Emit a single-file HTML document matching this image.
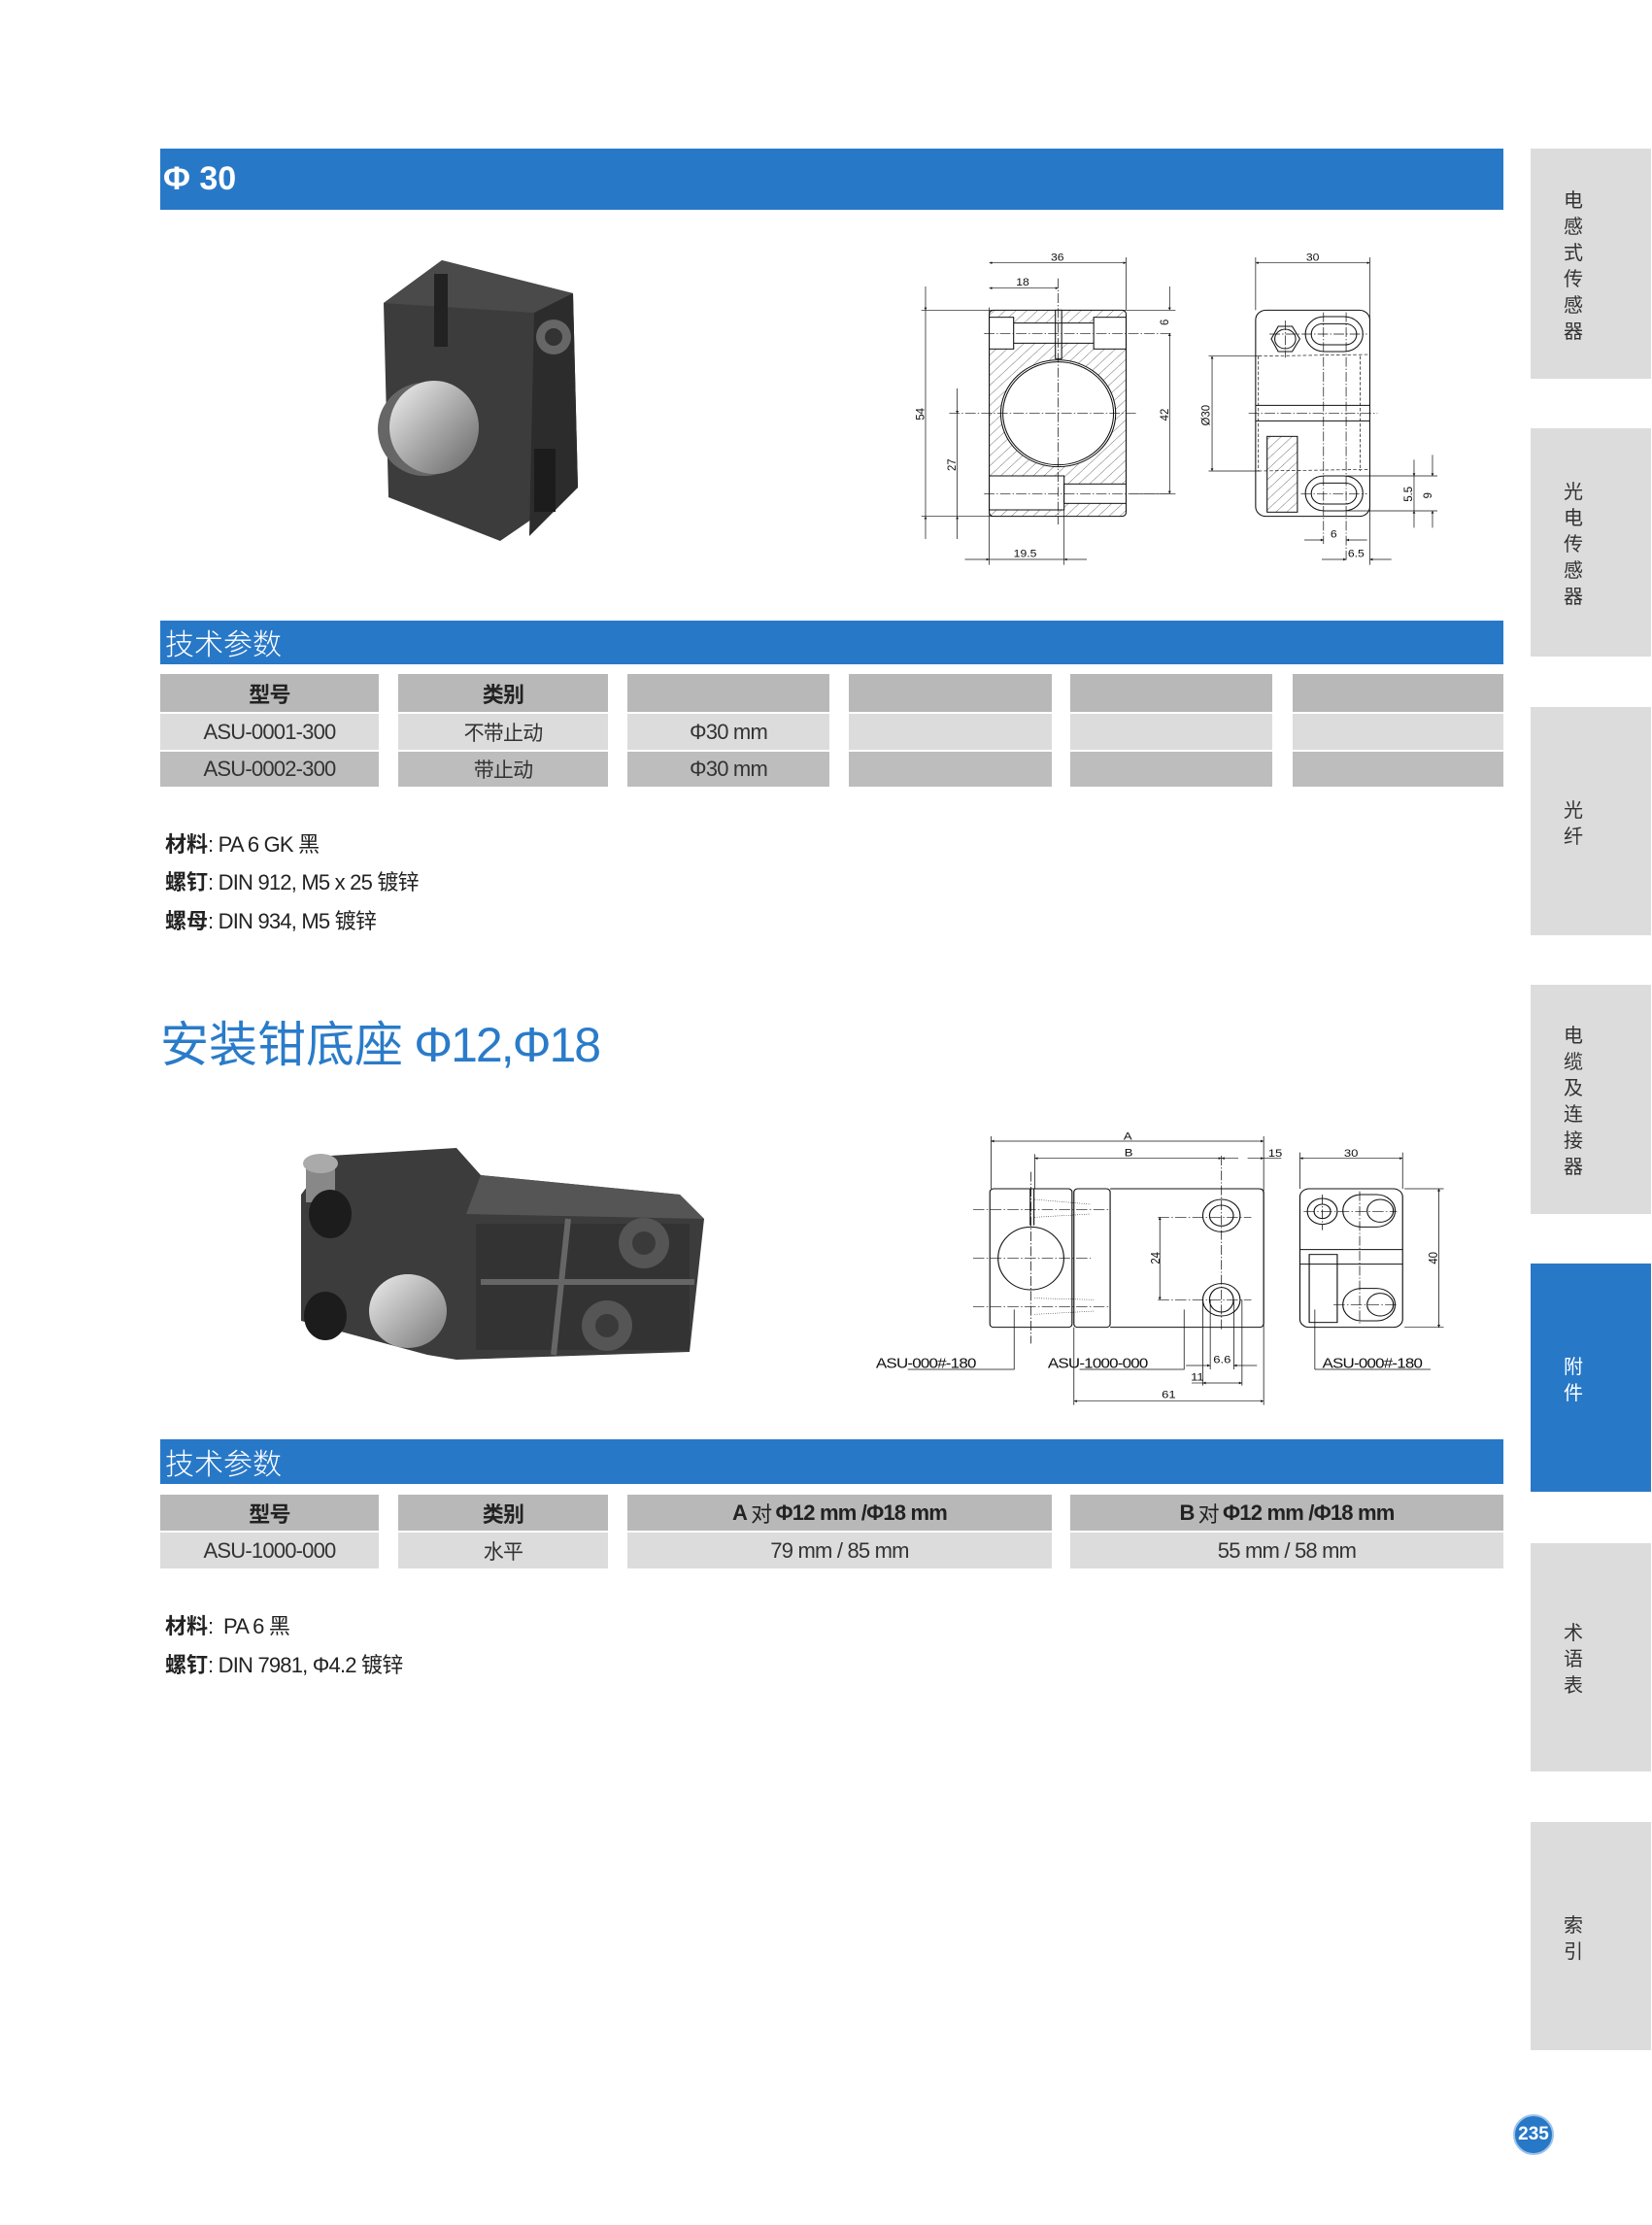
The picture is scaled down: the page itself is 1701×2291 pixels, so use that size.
<!DOCTYPE html>
<html><head><meta charset="utf-8">
<style>
body{margin:0;width:1701px;height:2291px;background:#fff;position:relative;overflow:hidden;font-family:"Liberation Sans","Noto Sans CJK SC",sans-serif;color:#222}
.a{position:absolute}
.bar{position:absolute;left:165px;width:1383px;background:#2878c8;color:#fff}
.cell{position:absolute;display:flex;align-items:center;justify-content:center;font-size:22px;color:#333;letter-spacing:-0.8px}
.h{background:#b8b8b8;font-weight:bold;color:#222}
.g1{background:#dcdcdc}.g2{background:#bdbdbd}
.tab{position:absolute;left:1576px;width:124px;background:#dcdcdc;display:flex;align-items:center;justify-content:center;font-family:"Noto Sans CJK SC",sans-serif;font-size:20px;line-height:27px;color:#333;text-align:center;padding-right:36px;box-sizing:border-box}
.mat{position:absolute;left:170px;font-size:22px;letter-spacing:-0.8px}
.mat b{font-family:"Noto Sans CJK SC",sans-serif;letter-spacing:0}
svg text{font-family:"Liberation Sans",sans-serif}
</style></head><body>

<div class="bar" style="top:153px;height:63px;font-size:34px;font-weight:bold;line-height:63px;padding-left:3px;box-sizing:border-box">Φ 30</div>

<!-- product 1 -->
<svg class="a" style="left:375px;top:262px" width="235" height="300" viewBox="0 0 235 300">
<defs><linearGradient id="k1" x1="0" y1="0" x2="1" y2="1"><stop offset="0" stop-color="#f2f2f2"/><stop offset=".5" stop-color="#aaa"/><stop offset="1" stop-color="#666"/></linearGradient></defs>
<polygon points="20,50 80,6 215,40 220,240 140,295 25,250" fill="#3c3c3c"/>
<polygon points="80,6 215,40 175,60 20,50" fill="#4a4a4a"/>
<polygon points="175,60 215,40 220,240 170,290" fill="#2c2c2c"/>
<rect x="72" y="20" width="14" height="75" fill="#222"/>
<circle cx="195" cy="85" r="18" fill="#666"/><circle cx="195" cy="85" r="9" fill="#333"/>
<rect x="175" y="200" width="22" height="65" fill="#1c1c1c"/>
<ellipse cx="62" cy="180" rx="48" ry="48" fill="#666"/>
<ellipse cx="72" cy="178" rx="46" ry="48" fill="url(#k1)"/>
</svg>

<!-- drawing 1 -->
<svg class="a" style="left:920px;top:250px" width="560" height="340" viewBox="0 0 1562 1020" preserveAspectRatio="none" fill="none" stroke="#111" stroke-width="3">
<defs><pattern id="hp" width="22" height="22" patternUnits="userSpaceOnUse" patternTransform="rotate(45)"><line x1="0" y1="0" x2="0" y2="22" stroke="#333" stroke-width="2"/></pattern>
<marker id="ar" viewBox="0 0 10 10" refX="10" refY="5" markerWidth="14" markerHeight="8" orient="auto-start-reverse" markerUnits="userSpaceOnUse"><path d="M0,0L10,5L0,10z" fill="#111" stroke="none"/></marker></defs>
<rect x="275" y="208" width="393" height="637" rx="12" fill="url(#hp)"/>
<g fill="#fff" stroke="#111"><rect x="275" y="248" width="393" height="62" stroke="none"/><rect x="275" y="230" width="70" height="98"/><rect x="575" y="230" width="93" height="98"/>
<rect x="275" y="720" width="215" height="105"/><rect x="490" y="745" width="178" height="60"/><rect x="465" y="208" width="18" height="150"/>
<circle cx="473" cy="527" r="165"/></g>
<circle cx="473" cy="527" r="159"/>
<line x1="345" y1="248" x2="575" y2="248"/><line x1="345" y1="310" x2="575" y2="310"/>
<g stroke-width="2" stroke-dasharray="30,6,4,6"><line x1="473" y1="110" x2="473" y2="870"/><line x1="160" y1="527" x2="700" y2="527"/><line x1="260" y1="280" x2="800" y2="280"/><line x1="260" y1="775" x2="800" y2="775"/>
<line x1="1125" y1="240" x2="1125" y2="355"/><line x1="1235" y1="215" x2="1235" y2="930"/><line x1="1300" y1="215" x2="1300" y2="980"/><line x1="1020" y1="527" x2="1390" y2="527"/><line x1="1080" y1="282" x2="1360" y2="282"/><line x1="1170" y1="775" x2="1360" y2="775"/></g>
<g stroke-width="2"><line x1="275" y1="200" x2="275" y2="995"/><line x1="668" y1="45" x2="668" y2="208"/><line x1="80" y1="208" x2="810" y2="208"/><line x1="80" y1="845" x2="300" y2="845"/><line x1="490" y1="825" x2="490" y2="995"/><line x1="680" y1="775" x2="810" y2="775"/>
<line x1="275" y1="62" x2="668" y2="62" marker-start="url(#ar)" marker-end="url(#ar)"/>
<line x1="275" y1="140" x2="473" y2="140" marker-start="url(#ar)" marker-end="url(#ar)"/>
<line x1="92" y1="135" x2="92" y2="208" marker-end="url(#ar)"/><line x1="92" y1="208" x2="92" y2="845"/><line x1="92" y1="915" x2="92" y2="845" marker-end="url(#ar)"/>
<line x1="183" y1="450" x2="183" y2="527" marker-end="url(#ar)"/><line x1="183" y1="527" x2="183" y2="845"/><line x1="183" y1="915" x2="183" y2="845" marker-end="url(#ar)"/>
<line x1="793" y1="135" x2="793" y2="208" marker-end="url(#ar)"/><line x1="793" y1="280" x2="793" y2="775" marker-start="url(#ar)" marker-end="url(#ar)"/>
<line x1="205" y1="978" x2="275" y2="978" marker-end="url(#ar)"/><line x1="275" y1="978" x2="490" y2="978"/><line x1="555" y1="978" x2="490" y2="978" marker-end="url(#ar)"/>
<line x1="1040" y1="45" x2="1040" y2="208"/><line x1="1368" y1="45" x2="1368" y2="995"/>
<line x1="1040" y1="62" x2="1368" y2="62" marker-start="url(#ar)" marker-end="url(#ar)"/>
<line x1="905" y1="350" x2="1050" y2="350"/><line x1="905" y1="705" x2="1050" y2="705"/><line x1="915" y1="350" x2="915" y2="705" marker-start="url(#ar)" marker-end="url(#ar)"/>
<line x1="1300" y1="720" x2="1562" y2="720"/><line x1="1300" y1="828" x2="1562" y2="828"/>
<line x1="1495" y1="670" x2="1495" y2="720" marker-end="url(#ar)"/><line x1="1495" y1="880" x2="1495" y2="828" marker-end="url(#ar)"/><line x1="1495" y1="720" x2="1495" y2="828"/>
<line x1="1548" y1="655" x2="1548" y2="720" marker-end="url(#ar)"/><line x1="1548" y1="880" x2="1548" y2="828" marker-end="url(#ar)"/>
<line x1="1180" y1="918" x2="1235" y2="918" marker-end="url(#ar)"/><line x1="1360" y1="918" x2="1300" y2="918" marker-end="url(#ar)"/>
<line x1="1230" y1="978" x2="1300" y2="978" marker-end="url(#ar)"/><line x1="1430" y1="978" x2="1368" y2="978" marker-end="url(#ar)"/></g>
<rect x="1040" y="208" width="328" height="637" rx="30"/>
<polygon points="1085,297 1105,258 1145,258 1167,297 1145,336 1105,336"/><circle cx="1125" cy="297" r="30"/>
<rect x="1183" y="228" width="165" height="108" rx="54"/><rect x="1200" y="250" width="130" height="65" rx="32"/>
<rect x="1183" y="720" width="165" height="108" rx="54"/><rect x="1200" y="742" width="130" height="65" rx="32"/>
<rect x="1073" y="598" width="87" height="234" fill="url(#hp)"/>
<line x1="1040" y1="502" x2="1368" y2="502"/><line x1="1040" y1="550" x2="1368" y2="550"/>
<g stroke-width="2" stroke-dasharray="10,6"><line x1="1048" y1="350" x2="1368" y2="345"/><line x1="1048" y1="705" x2="1368" y2="700"/><line x1="1048" y1="350" x2="1048" y2="705"/><line x1="1340" y1="350" x2="1340" y2="705"/></g>
<g fill="#111" stroke="none" font-size="34"><text x="452" y="55">36</text><text x="352" y="132">18</text><text x="345" y="970">19.5</text><text x="1185" y="55">30</text><text x="1255" y="910">6</text><text x="1305" y="970">6.5</text>
<text transform="translate(88,548) rotate(-90)">54</text><text transform="translate(178,705) rotate(-90)">27</text><text transform="translate(790,550) rotate(-90)">42</text><text transform="translate(790,255) rotate(-90)">6</text><text transform="translate(908,565) rotate(-90)">Ø30</text><text transform="translate(1490,800) rotate(-90)">5.5</text><text transform="translate(1545,790) rotate(-90)">9</text></g>
</svg>

<div class="bar" style="top:639px;height:45px;font-size:30px;line-height:45px;padding-left:5px;box-sizing:border-box;font-family:'Noto Sans CJK SC',sans-serif;font-weight:300">技术参数</div>

<div class="cell h" style="left:165px;top:694px;width:225px;height:39px;font-family:'Noto Sans CJK SC',sans-serif">型号</div>
<div class="cell h" style="left:410px;top:694px;width:216px;height:39px;font-family:'Noto Sans CJK SC',sans-serif">类别</div>
<div class="cell h" style="left:646px;top:694px;width:208px;height:39px"></div>
<div class="cell h" style="left:874px;top:694px;width:209px;height:39px"></div>
<div class="cell h" style="left:1102px;top:694px;width:208px;height:39px"></div>
<div class="cell h" style="left:1331px;top:694px;width:217px;height:39px"></div>

<div class="cell g1" style="left:165px;top:735px;width:225px;height:37px">ASU-0001-300</div>
<div class="cell g1" style="left:410px;top:735px;width:216px;height:37px;font-family:'Noto Sans CJK SC',sans-serif;font-size:21px">不带止动</div>
<div class="cell g1" style="left:646px;top:735px;width:208px;height:37px">Φ30 mm</div>
<div class="cell g1" style="left:874px;top:735px;width:209px;height:37px"></div>
<div class="cell g1" style="left:1102px;top:735px;width:208px;height:37px"></div>
<div class="cell g1" style="left:1331px;top:735px;width:217px;height:37px"></div>

<div class="cell g2" style="left:165px;top:774px;width:225px;height:36px">ASU-0002-300</div>
<div class="cell g2" style="left:410px;top:774px;width:216px;height:36px;font-family:'Noto Sans CJK SC',sans-serif;font-size:21px">带止动</div>
<div class="cell g2" style="left:646px;top:774px;width:208px;height:36px">Φ30 mm</div>
<div class="cell g2" style="left:874px;top:774px;width:209px;height:36px"></div>
<div class="cell g2" style="left:1102px;top:774px;width:208px;height:36px"></div>
<div class="cell g2" style="left:1331px;top:774px;width:217px;height:36px"></div>

<div class="mat" style="top:852px"><b>材料</b>: PA 6 GK 黑</div>
<div class="mat" style="top:891px"><b>螺钉</b>: DIN 912, M5 x 25 镀锌</div>
<div class="mat" style="top:931px"><b>螺母</b>: DIN 934, M5 镀锌</div>

<div class="a" style="left:165px;top:1040px;font-size:50px;color:#2a7bc9;font-family:'Noto Sans CJK SC',sans-serif;line-height:64px">安装钳底座 <span style="font-family:'Liberation Sans',sans-serif;letter-spacing:-2px">Φ12,Φ18</span></div>

<!-- product 2 -->
<svg class="a" style="left:280px;top:1160px" width="460" height="250" viewBox="0 0 460 250">
<defs><linearGradient id="k2" x1="0" y1="0" x2="1" y2="1"><stop offset="0" stop-color="#eee"/><stop offset="1" stop-color="#777"/></linearGradient></defs>
<polygon points="30,70 60,30 190,22 215,50 420,70 445,95 430,232 190,240 160,235 30,200" fill="#3c3c3c"/>
<polygon points="215,50 420,70 445,95 200,90" fill="#555"/>
<rect x="210" y="100" width="220" height="130" fill="#333"/>
<line x1="305" y1="95" x2="290" y2="235" stroke="#666" stroke-width="6"/><line x1="215" y1="160" x2="435" y2="160" stroke="#666" stroke-width="6"/>
<circle cx="383" cy="120" r="26" fill="#555"/><circle cx="383" cy="120" r="12" fill="#3a3a3a"/>
<circle cx="345" cy="205" r="26" fill="#555"/><circle cx="345" cy="205" r="12" fill="#3a3a3a"/>
<rect x="35" y="38" width="30" height="40" fill="#888"/><ellipse cx="50" cy="38" rx="18" ry="10" fill="#aaa"/>
<ellipse cx="60" cy="90" rx="22" ry="25" fill="#1c1c1c"/><ellipse cx="55" cy="195" rx="22" ry="25" fill="#1c1c1c"/>
<ellipse cx="140" cy="190" rx="40" ry="38" fill="url(#k2)"/>
</svg>

<!-- drawing 2 -->
<svg class="a" style="left:900px;top:1150px" width="600" height="300" viewBox="0 0 1560 900" preserveAspectRatio="none" fill="none" stroke="#111" stroke-width="3">
<rect x="310" y="222" width="220" height="428" rx="10"/><rect x="535" y="222" width="97" height="428" rx="10"/><path d="M632,222 H1030 Q1043,222 1043,235 V637 Q1043,650 1030,650 H632"/>
<ellipse cx="420" cy="437" rx="88" ry="97"/><line x1="418" y1="222" x2="418" y2="335"/><line x1="428" y1="222" x2="428" y2="335"/>
<circle cx="930" cy="305" r="50"/><circle cx="930" cy="305" r="32"/><circle cx="930" cy="565" r="50"/><ellipse cx="930" cy="565" rx="32" ry="38"/>
<rect x="1140" y="222" width="275" height="428" rx="25"/><line x1="1140" y1="410" x2="1415" y2="410"/><line x1="1140" y1="455" x2="1415" y2="455"/>
<circle cx="1200" cy="292" r="40"/><circle cx="1200" cy="292" r="22"/><rect x="1255" y="240" width="140" height="100" rx="50"/><circle cx="1355" cy="290" r="35"/>
<rect x="1255" y="530" width="140" height="100" rx="50"/><circle cx="1355" cy="580" r="35"/><rect x="1165" y="425" width="75" height="210"/>
<g stroke-width="2" stroke-dasharray="2,4"><line x1="430" y1="255" x2="580" y2="270"/><line x1="430" y1="310" x2="580" y2="300"/><line x1="430" y1="560" x2="590" y2="565"/><line x1="430" y1="610" x2="590" y2="600"/></g>
<g stroke-width="2" stroke-dasharray="30,6,4,6"><line x1="265" y1="287" x2="630" y2="287"/><line x1="265" y1="437" x2="580" y2="437"/><line x1="265" y1="587" x2="630" y2="587"/><line x1="420" y1="170" x2="420" y2="700"/><line x1="930" y1="120" x2="930" y2="660"/><line x1="760" y1="310" x2="1010" y2="310"/><line x1="760" y1="565" x2="1010" y2="565"/><line x1="1200" y1="240" x2="1200" y2="350"/><line x1="1300" y1="230" x2="1300" y2="640"/><line x1="1150" y1="292" x2="1400" y2="292"/><line x1="1230" y1="580" x2="1400" y2="580"/></g>
<g stroke-width="2"><line x1="313" y1="60" x2="313" y2="222"/><line x1="430" y1="115" x2="430" y2="222"/><line x1="1043" y1="60" x2="1043" y2="890"/><line x1="535" y1="650" x2="535" y2="890"/>
<line x1="313" y1="75" x2="1043" y2="75" marker-start="url(#ar)" marker-end="url(#ar)"/>
<line x1="430" y1="128" x2="930" y2="128" marker-start="url(#ar)" marker-end="url(#ar)"/><line x1="975" y1="128" x2="930" y2="128" marker-end="url(#ar)"/><line x1="1000" y1="128" x2="1043" y2="128" marker-end="url(#ar)"/><line x1="1043" y1="128" x2="1090" y2="128"/>
<line x1="1140" y1="128" x2="1415" y2="128" marker-start="url(#ar)" marker-end="url(#ar)"/><line x1="1140" y1="110" x2="1140" y2="222"/><line x1="1415" y1="110" x2="1415" y2="222"/>
<line x1="1420" y1="222" x2="1525" y2="222"/><line x1="1420" y1="650" x2="1525" y2="650"/><line x1="1512" y1="222" x2="1512" y2="650" marker-start="url(#ar)" marker-end="url(#ar)"/>
<line x1="765" y1="310" x2="765" y2="565" marker-start="url(#ar)" marker-end="url(#ar)"/>
<line x1="535" y1="878" x2="1043" y2="878" marker-start="url(#ar)" marker-end="url(#ar)"/>
<line x1="880" y1="565" x2="880" y2="830"/><line x1="900" y1="565" x2="900" y2="780"/><line x1="963" y1="565" x2="963" y2="780"/><line x1="985" y1="565" x2="985" y2="830"/>
<line x1="835" y1="768" x2="900" y2="768" marker-end="url(#ar)"/><line x1="1025" y1="768" x2="963" y2="768" marker-end="url(#ar)"/>
<line x1="850" y1="822" x2="880" y2="822"/><line x1="880" y1="822" x2="985" y2="822" marker-start="url(#ar)" marker-end="url(#ar)"/>
<path d="M90,780 H375 V595"/><path d="M550,780 H830 V595"/><path d="M1180,780 H1490 M1180,780 V595"/></g>
<g fill="#111" stroke="none" font-size="34"><text x="668" y="70">A</text><text x="670" y="122">B</text><text x="1055" y="123">15</text><text x="1258" y="123">30</text><text x="908" y="760">6.6</text><text x="848" y="815">11</text><text x="770" y="868">61</text>
<text transform="translate(765,455) rotate(-90)">24</text><text transform="translate(1508,455) rotate(-90)">40</text></g>
<g fill="#111" stroke="none" font-size="44" letter-spacing="-2"><text x="5" y="775">ASU-000#-180</text><text x="465" y="775">ASU-1000-000</text><text x="1200" y="775">ASU-000#-180</text></g>
</svg>

<div class="bar" style="top:1482px;height:46px;font-size:30px;line-height:46px;padding-left:5px;box-sizing:border-box;font-family:'Noto Sans CJK SC',sans-serif;font-weight:300">技术参数</div>

<div class="cell h" style="left:165px;top:1539px;width:225px;height:37px;font-family:'Noto Sans CJK SC',sans-serif">型号</div>
<div class="cell h" style="left:410px;top:1539px;width:216px;height:37px;font-family:'Noto Sans CJK SC',sans-serif">类别</div>
<div class="cell h" style="left:646px;top:1539px;width:437px;height:37px">A <span style="font-weight:normal;font-family:'Noto Sans CJK SC',sans-serif">&nbsp;对&nbsp;</span> Φ12 mm /Φ18 mm</div>
<div class="cell h" style="left:1102px;top:1539px;width:446px;height:37px">B <span style="font-weight:normal;font-family:'Noto Sans CJK SC',sans-serif">&nbsp;对&nbsp;</span> Φ12 mm /Φ18 mm</div>
<div class="cell g1" style="left:165px;top:1578px;width:225px;height:37px">ASU-1000-000</div>
<div class="cell g1" style="left:410px;top:1578px;width:216px;height:37px;font-family:'Noto Sans CJK SC',sans-serif;font-size:21px">水平</div>
<div class="cell g1" style="left:646px;top:1578px;width:437px;height:37px">79 mm / 85 mm</div>
<div class="cell g1" style="left:1102px;top:1578px;width:446px;height:37px">55 mm / 58 mm</div>

<div class="mat" style="top:1657px"><b>材料</b>:&nbsp; PA 6 黑</div>
<div class="mat" style="top:1697px"><b>螺钉</b>: DIN 7981, Φ4.2 镀锌</div>

<div class="tab" style="top:153px;height:237px">电<br>感<br>式<br>传<br>感<br>器</div>
<div class="tab" style="top:441px;height:235px">光<br>电<br>传<br>感<br>器</div>
<div class="tab" style="top:728px;height:235px">光<br>纤</div>
<div class="tab" style="top:1014px;height:236px">电<br>缆<br>及<br>连<br>接<br>器</div>
<div class="tab" style="top:1301px;height:235px;background:#2878c8;color:#fff">附<br>件</div>
<div class="tab" style="top:1589px;height:235px">术<br>语<br>表</div>
<div class="tab" style="top:1876px;height:235px">索<br>引</div>

<div class="a" style="left:1558px;top:2177px;width:42px;height:42px;border-radius:50%;background:#2878c8;border:2px solid #9cc3ea;box-sizing:border-box;color:#fff;font-weight:bold;font-size:19px;line-height:38px;text-align:center">235</div>
</body></html>
